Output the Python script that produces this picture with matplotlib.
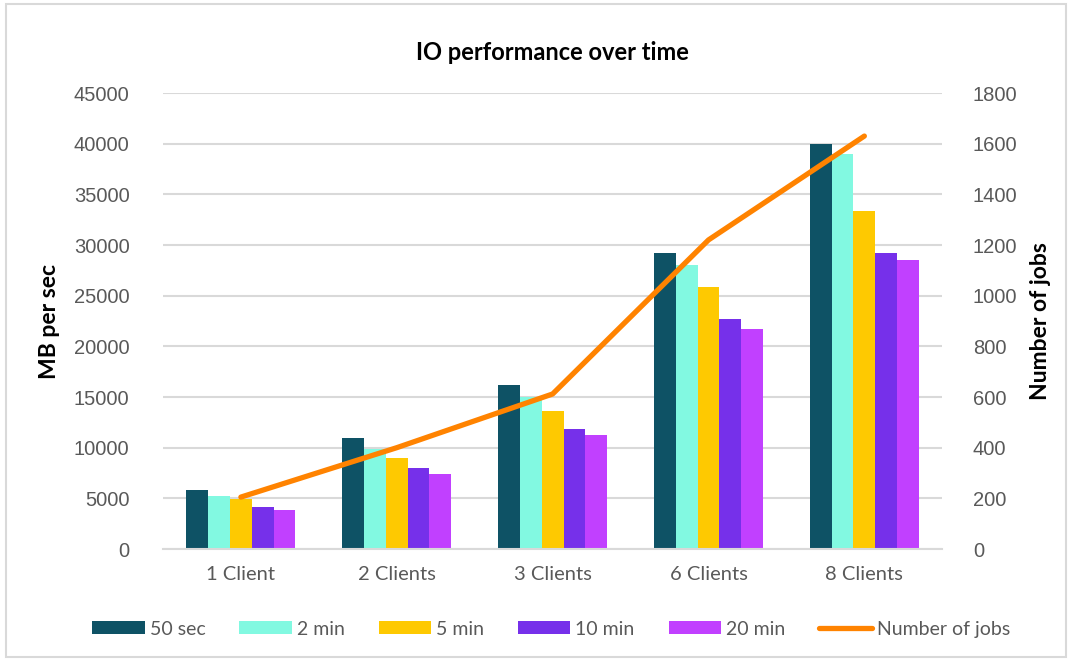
import numpy as np
import matplotlib
matplotlib.use("Agg")
import matplotlib.pyplot as plt
from matplotlib.patches import Rectangle

# data
categories = ["1 Client", "2 Clients", "3 Clients", "6 Clients", "8 Clients"]
series_names = ["50 sec", "2 min", "5 min", "10 min", "20 min"]
mb_50sec = [5850, 10960, 16190, 29220, 39980]
mb_2min = [5230, 9840, 14980, 28040, 39030]
mb_5min = [4970, 8980, 13620, 25860, 33400]
mb_10min = [4150, 8000, 11850, 22700, 29220]
mb_20min = [3850, 7400, 11250, 21720, 28530]
num_jobs = [205, 400, 612, 1220, 1630]

bar_colors = ["#0E5265", "#82F9E1", "#FEC901", "#7630EA", "#C140FF"]
line_color = "#FF8300"
text_grey = "#595959"
grid_grey = "#D9D9D9"

narrow = ["Liberation Sans", "DejaVu Sans"]
body = ["Lato", "DejaVu Sans"]

fig = plt.figure(figsize=(10.72, 6.61), dpi=100)
ax = fig.add_axes([0.152, 0.1694, 0.727, 0.6899])

x = np.arange(len(categories))
width = 0.14
all_series = [mb_50sec, mb_2min, mb_5min, mb_10min, mb_20min]
for i, (vals, name, col) in enumerate(zip(all_series, series_names, bar_colors)):
    ax.bar(x + (i - 2) * width, vals, width, color=col, label=name, zorder=2)

ax.set_xlim(-0.5, len(categories) - 0.5)
ax.set_ylim(0, 45000)
ax.set_yticks(np.arange(0, 45001, 5000))
ax.set_xticks(x)
ax.set_xticklabels(categories, fontfamily=body, fontsize=14.5, color=text_grey)
for lab in ax.get_yticklabels():
    lab.set_fontfamily(narrow)
    lab.set_fontsize(14.5)
    lab.set_color(text_grey)
ax.tick_params(axis="both", length=0)
ax.tick_params(axis="y", pad=24)
ax.tick_params(axis="x", pad=12)
ax.grid(axis="y", color=grid_grey, linewidth=1.5, zorder=0)
for s in ["top", "right", "left"]:
    ax.spines[s].set_visible(False)
ax.spines["bottom"].set_color(grid_grey)
ax.spines["bottom"].set_linewidth(1.5)
ax.set_ylabel("MB per sec", fontfamily=body, fontsize=16.5, fontweight="bold",
              color="black", labelpad=10)

ax2 = ax.twinx()
ax2.plot(x, num_jobs, color=line_color, linewidth=3.8, solid_capstyle="round",
         label="Number of jobs", zorder=3)
ax2.set_ylim(0, 1800)
ax2.set_yticks(np.arange(0, 1801, 200))
for lab in ax2.get_yticklabels():
    lab.set_fontfamily(narrow)
    lab.set_fontsize(14.5)
    lab.set_color(text_grey)
ax2.tick_params(axis="y", length=0, pad=22)
for s in ax2.spines.values():
    s.set_visible(False)
ax2.set_ylabel("Number of jobs", fontfamily=body, fontsize=16.5, fontweight="bold",
               color="black", labelpad=9)

ax.set_title("IO performance over time", fontfamily=body, fontsize=17,
             fontweight="bold", color="black", pad=24)

h1, l1 = ax.get_legend_handles_labels()
h2, l2 = ax2.get_legend_handles_labels()
fig.legend(h1 + h2, l1 + l2, loc="center", bbox_to_anchor=(0.514, 0.048), ncol=6,
           frameon=False, prop={"family": body, "size": 14},
           labelcolor=text_grey, handlelength=2.7, handleheight=0.65,
           handletextpad=0.25, columnspacing=1.75)

# light border around the chart area
fig.patches.append(Rectangle((0.006, 0.006), 0.988, 0.988, transform=fig.transFigure,
                             fill=False, edgecolor="#D9D9D9", linewidth=1.5))

fig.savefig("out.png", dpi=100)
